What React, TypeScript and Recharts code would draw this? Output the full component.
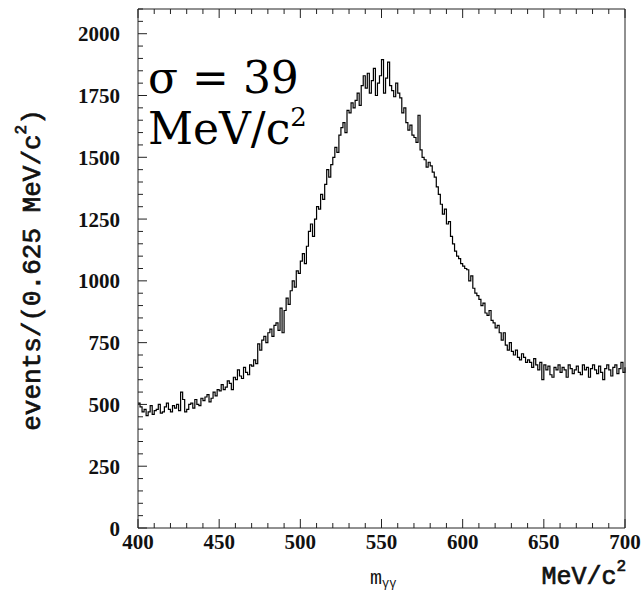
import { ComposedChart, Line, XAxis, YAxis } from "recharts";

// invariant mass histogram, counts per 1.25 MeV/c^2 starting at 400
const BIN = 1.25;
const M_START = 400;
const COUNTS = [
  505, 490, 470, 480, 455, 470, 495, 460,
  475, 480, 500, 465, 470, 490, 505, 480,
  470, 495, 485, 500, 475, 550, 520, 470,
  480, 500, 505, 485, 520, 500, 495, 525,
  515, 530, 540, 510, 525, 550, 535, 560,
  555, 580, 560, 570, 595, 585, 560, 610,
  600, 640, 615, 605, 650, 630, 620, 660,
  655, 680, 665, 745, 720, 760, 775, 750,
  790, 805, 775, 820, 830, 800, 890, 790,
  880, 930, 905, 960, 1000, 975, 1040, 1030,
  1080, 1110, 1070, 1140, 1200, 1230, 1180, 1250,
  1300, 1290, 1350, 1330, 1390, 1450, 1420, 1470,
  1500, 1540, 1520, 1590, 1620, 1640, 1600, 1690,
  1680, 1720, 1700, 1730, 1760, 1710, 1790, 1830,
  1780, 1840, 1760, 1810, 1860, 1750, 1800, 1830,
  1895, 1760, 1820, 1885, 1790, 1770, 1745, 1800,
  1760, 1740, 1680, 1700, 1640, 1610, 1630, 1590,
  1580, 1560, 1670, 1530, 1500, 1490, 1460, 1480,
  1465, 1440, 1420, 1380, 1350, 1310, 1270, 1290,
  1230, 1240, 1180, 1150, 1120, 1100, 1090, 1070,
  1060, 1050, 1045, 1000, 1020, 970, 950, 940,
  925, 900, 910, 870, 860, 880, 840, 830,
  810, 820, 790, 760, 790, 740, 720, 750,
  715, 700, 720, 690, 680, 705, 690, 670,
  680, 670, 650, 685, 660, 640, 670, 600,
  660, 640, 655, 620, 610, 650, 640, 660,
  630, 650, 640, 610, 660, 645, 625, 640,
  655, 630, 620, 660, 640, 650, 610, 645,
  660, 640, 625, 655, 630, 600, 645, 660,
  640, 615, 650, 660, 625, 645, 670, 630,
  650,
];

const X_LABELS = [400, 450, 500, 550, 600, 650, 700];
const Y_LABELS = [0, 250, 500, 750, 1000, 1250, 1500, 1750, 2000];
const X_TICKS = Array.from({ length: 31 }, (_, i) => 400 + i * 10);
const Y_TICKS = Array.from({ length: 43 }, (_, i) => i * 50);

const data = COUNTS.map((n, i) => ({ m: M_START + i * BIN, n }));

const FRAME = "#222";
const TICK_FONT = { fontFamily: "'Liberation Serif', serif", fontWeight: 700, fontSize: 21, fill: "#111" };

const tickLen = (major: boolean) => (major ? 9 : 5);

// ROOT style: ticks point into the frame
const LeftTick = ({ y, payload }: any) => {
  const major = Y_LABELS.includes(payload.value);
  const x = 138;
  return (
    <g>
      <line x1={x} x2={x + tickLen(major)} y1={y} y2={y} stroke={FRAME} />
      {major && (
        <text x={x - 18} y={y} dy="0.36em" textAnchor="end" {...TICK_FONT}>
          {payload.value}
        </text>
      )}
    </g>
  );
};

const RightTick = ({ y, payload }: any) => {
  const major = Y_LABELS.includes(payload.value);
  const x = 625;
  return <line x1={x} x2={x - tickLen(major)} y1={y} y2={y} stroke={FRAME} />;
};

const BottomTick = ({ x, payload }: any) => {
  const major = X_LABELS.includes(payload.value);
  const y = 528;
  return (
    <g>
      <line x1={x} x2={x} y1={y} y2={y - tickLen(major)} stroke={FRAME} />
      {major && (
        <text x={x} y={y + 13} dy="0.36em" textAnchor="middle" {...TICK_FONT}>
          {payload.value}
        </text>
      )}
    </g>
  );
};

const TopTick = ({ x, payload }: any) => {
  const major = X_LABELS.includes(payload.value);
  const y = 9;
  return <line x1={x} x2={x} y1={y} y2={y + tickLen(major)} stroke={FRAME} />;
};

const MONO = "'Liberation Mono', 'DejaVu Sans Mono', monospace";

export default function App() {
  return (
    <div style={{ position: "absolute", left: 0, top: 0, width: 641, height: 592, background: "#fff" }}>
      <ComposedChart
        width={641}
        height={592}
        data={data}
        margin={{ top: 8, right: 15, bottom: 63, left: 137 }}
      >
        <XAxis
          dataKey="m"
          type="number"
          domain={[400, 700]}
          ticks={X_TICKS}
          interval={0}
          height={1}
          tickLine={false}
          tick={<BottomTick />}
          axisLine={{ stroke: FRAME }}
        />
        <XAxis
          xAxisId="top"
          orientation="top"
          dataKey="m"
          type="number"
          domain={[400, 700]}
          ticks={X_TICKS}
          interval={0}
          height={1}
          tickLine={false}
          tick={<TopTick />}
          axisLine={{ stroke: FRAME }}
        />
        <YAxis
          type="number"
          domain={[0, 2100]}
          ticks={Y_TICKS}
          interval={0}
          width={1}
          tickLine={false}
          tick={<LeftTick />}
          axisLine={{ stroke: FRAME }}
        />
        <YAxis
          yAxisId="right"
          orientation="right"
          type="number"
          domain={[0, 2100]}
          ticks={Y_TICKS}
          interval={0}
          width={1}
          tickLine={false}
          tick={<RightTick />}
          axisLine={{ stroke: FRAME }}
        />
        <Line
          type="stepAfter"
          dataKey="n"
          stroke="#000"
          strokeWidth={1.2}
          dot={false}
          isAnimationActive={false}
        />
      </ComposedChart>
      <svg
        width={641}
        height={592}
        style={{ position: "absolute", left: 0, top: 0, pointerEvents: "none" }}
      >
        <text
          x={33}
          y={270}
          transform="rotate(-90 33 270)"
          textAnchor="middle"
          dominantBaseline="central"
          fontFamily={MONO}
          fontSize={26}
          fill="#111"
          stroke="#111"
          strokeWidth={0.7}
        >
          events/(0.625 MeV/c
          <tspan fontSize={16} dy={-11}>2</tspan>
          <tspan dy={11}>)</tspan>
        </text>
        <text x={626} y={584} textAnchor="end" fontFamily={MONO} fontSize={25} fill="#111" stroke="#111" strokeWidth={0.7}>
          MeV/c
          <tspan fontSize={16} dy={-13}>2</tspan>
        </text>
        <text x={370} y={584} fontFamily={MONO} fontSize={20} fill="#111">
          m<tspan fontSize={12} dy={3}>γγ</tspan>
        </text>
        <text x={148} y={93} fontFamily="'DejaVu Serif', serif" fontSize={44} fill="#000">
          σ = 39
        </text>
        <text x={148} y={144} fontFamily="'DejaVu Serif', serif" fontSize={44} fill="#000">
          MeV/c<tspan fontSize={26} dy={-18}>2</tspan>
        </text>
      </svg>
    </div>
  );
}
